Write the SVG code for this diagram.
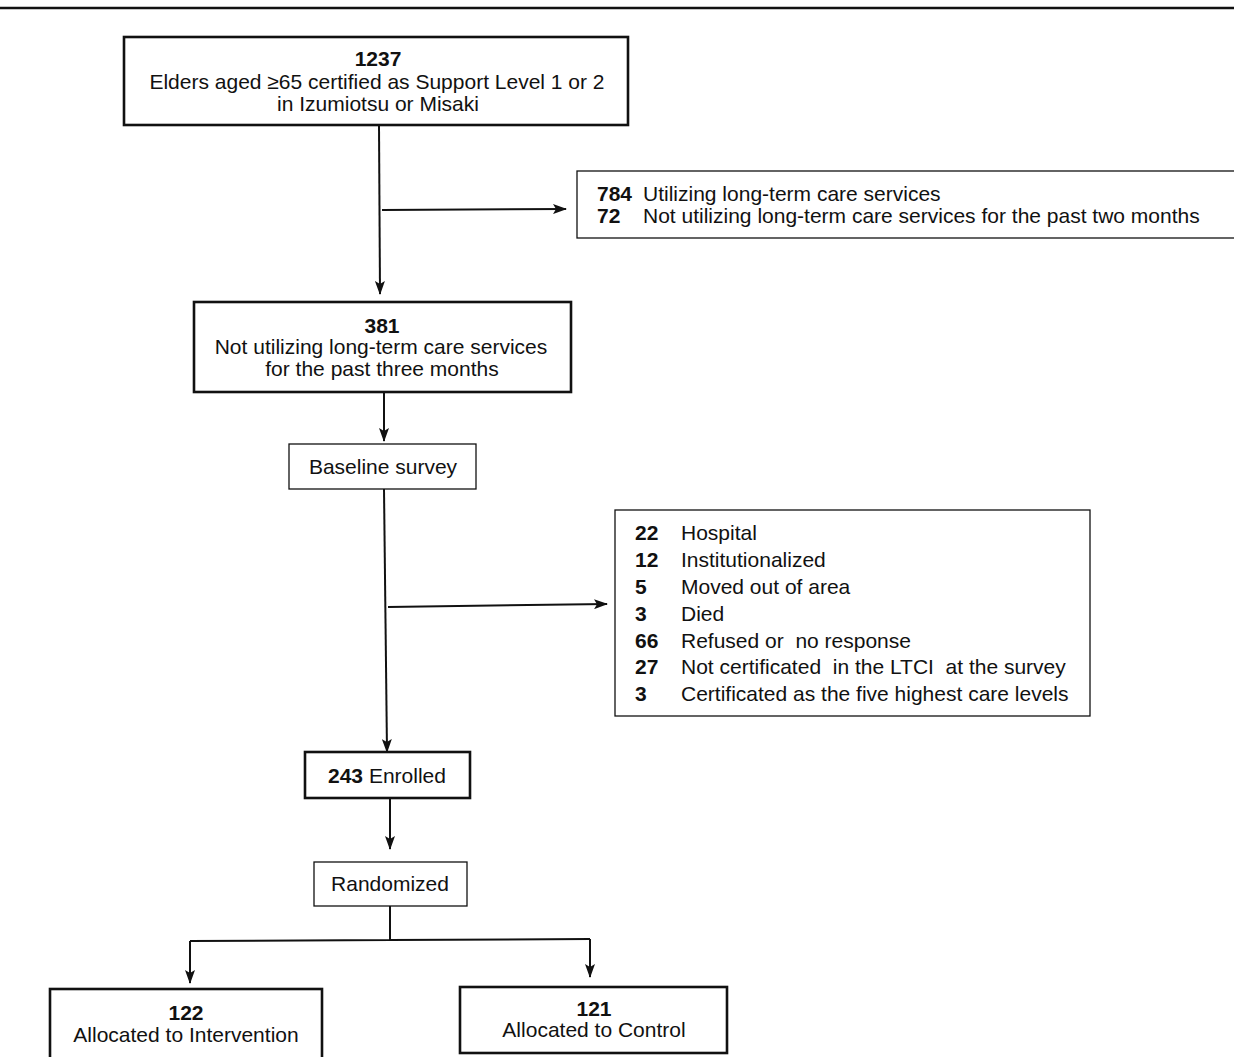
<svg xmlns="http://www.w3.org/2000/svg" width="1234" height="1057" viewBox="0 0 1234 1057">
<style>
text{font-family:"Liberation Sans",Arial,sans-serif;font-size:21px;fill:#111}
.b{font-weight:bold}
.c{text-anchor:middle}
.pre{white-space:pre}
.thick{fill:#fff;stroke:#111;stroke-width:2.6}
.thin{fill:#fff;stroke:#111;stroke-width:1.3}
.ln{fill:none;stroke:#111;stroke-width:2}
</style>
<defs>
<marker id="ah" markerWidth="14" markerHeight="10" refX="13" refY="5" orient="auto" markerUnits="userSpaceOnUse">
<path d="M0,0 L14,5 L0,10 L3,5 Z" fill="#111"/>
</marker>
</defs>
<rect width="1234" height="1057" fill="#fff"/>
<line x1="0" y1="8" x2="1234" y2="8" stroke="#111" stroke-width="2.6"/>

<g id="connectors">
<line class="ln" x1="379" y1="125" x2="380" y2="294" marker-end="url(#ah)"/>
<line class="ln" x1="382" y1="210" x2="566" y2="209" marker-end="url(#ah)"/>
<line class="ln" x1="384" y1="392" x2="384" y2="441" marker-end="url(#ah)"/>
<line class="ln" x1="384" y1="489" x2="387" y2="752" marker-end="url(#ah)"/>
<line class="ln" x1="388" y1="607" x2="607" y2="604" marker-end="url(#ah)"/>
<line class="ln" x1="390" y1="799" x2="390" y2="849" marker-end="url(#ah)"/>
<polyline class="ln" points="390,906 390,940 190,941"/>
<line class="ln" x1="190" y1="941" x2="190" y2="983" marker-end="url(#ah)"/>
<line class="ln" x1="390" y1="940" x2="590" y2="939"/>
<line class="ln" x1="590" y1="939" x2="590" y2="977" marker-end="url(#ah)"/>
</g>

<g id="n1237">
<rect class="thick" x="124" y="37" width="504" height="88"/>
<text class="c b" x="378" y="66">1237</text>
<text class="c" x="377" y="89">Elders aged ≥65 certified as Support Level 1 or 2</text>
<text class="c" x="378" y="111">in Izumiotsu or Misaki</text>
</g>

<g id="nExcl1">
<rect class="thin" x="577" y="171" width="670" height="67"/>
<text class="b" x="597" y="201">784</text>
<text x="643" y="201">Utilizing long-term care services</text>
<text class="b" x="597" y="223">72</text>
<text x="643" y="223">Not utilizing long-term care services for the past two months</text>
</g>

<g id="n381">
<rect class="thick" x="194" y="302" width="377" height="90"/>
<text class="c b" x="382" y="333">381</text>
<text class="c" x="381" y="354">Not utilizing long-term care services</text>
<text class="c" x="382" y="376">for the past three months</text>
</g>

<g id="nBaseline">
<rect class="thin" x="289" y="444" width="187" height="45"/>
<text class="c" x="383" y="474">Baseline survey</text>
</g>

<g id="nExcl2">
<rect class="thin" x="615" y="510" width="475" height="206"/>
<text class="b" x="635" y="540">22</text><text x="681" y="540">Hospital</text>
<text class="b" x="635" y="567">12</text><text x="681" y="567">Institutionalized</text>
<text class="b" x="635" y="594">5</text><text x="681" y="594">Moved out of area</text>
<text class="b" x="635" y="621">3</text><text x="681" y="621">Died</text>
<text class="b" x="635" y="648">66</text><text class="pre" x="681" y="648">Refused or  no response</text>
<text class="b" x="635" y="674">27</text><text class="pre" x="681" y="674">Not certificated  in the LTCI  at the survey</text>
<text class="b" x="635" y="701">3</text><text x="681" y="701">Certificated as the five highest care levels</text>
</g>

<g id="nEnrolled">
<rect class="thick" x="305" y="752" width="165" height="46"/>
<text x="328" y="783"><tspan class="b">243</tspan> Enrolled</text>
</g>

<g id="nRandomized">
<rect class="thin" x="314" y="862" width="153" height="44"/>
<text class="c" x="390" y="891">Randomized</text>
</g>

<g id="nIntervention">
<rect class="thick" x="50" y="989" width="272" height="75"/>
<text class="c b" x="186" y="1020">122</text>
<text class="c" x="186" y="1042">Allocated to Intervention</text>
</g>

<g id="nControl">
<rect class="thick" x="460" y="987" width="267" height="66"/>
<text class="c b" x="594" y="1016">121</text>
<text class="c" x="594" y="1037">Allocated to Control</text>
</g>
</svg>
